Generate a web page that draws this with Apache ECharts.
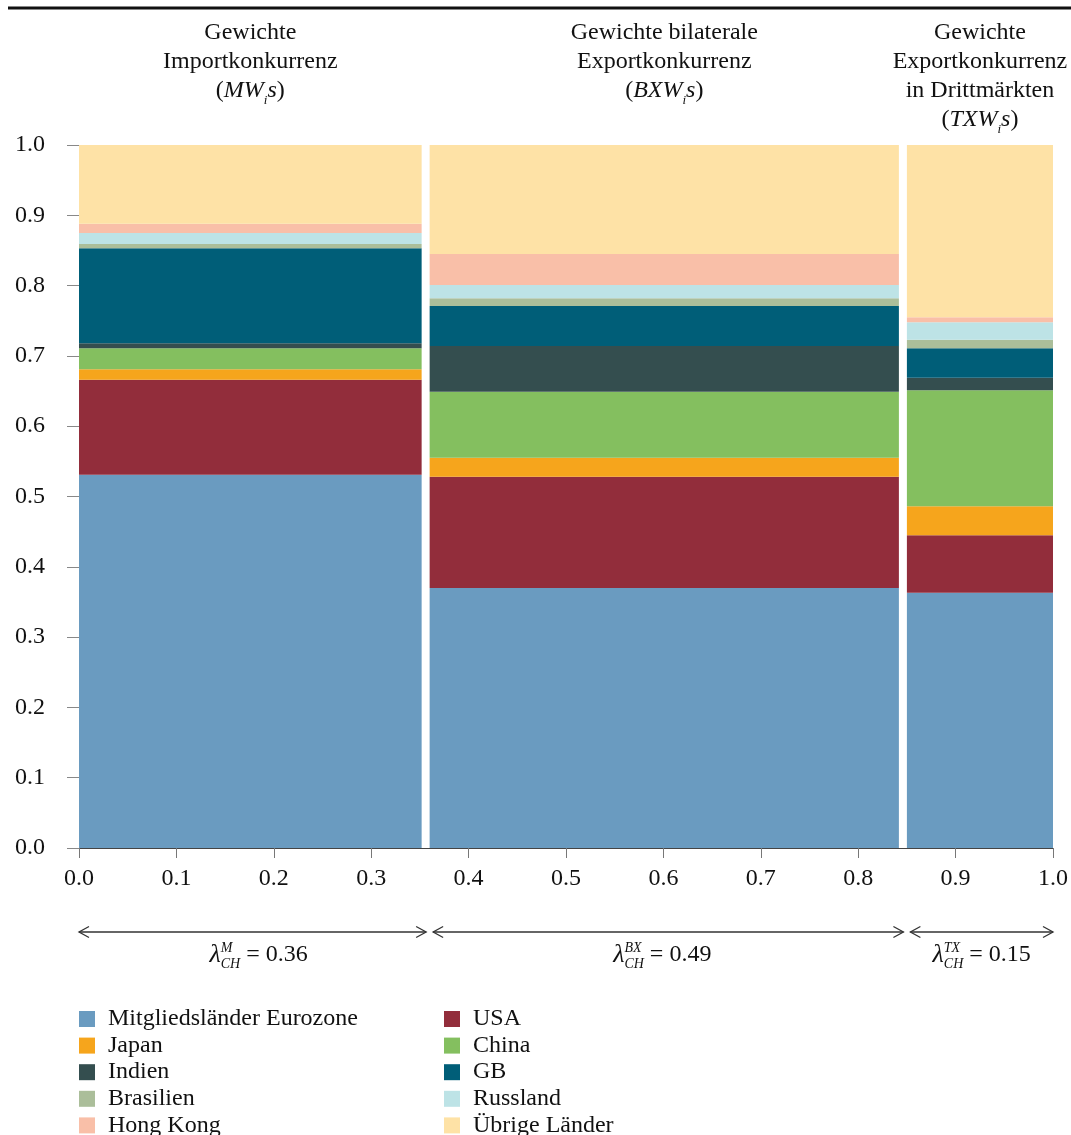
<!DOCTYPE html>
<html>
<head>
<meta charset="utf-8">
<script src="https://cdn.jsdelivr.net/npm/echarts@6/dist/echarts.min.js"></script>
<style>
  html, body { margin: 0; padding: 0; background: #fff; }
  #chart { width: 1071px; height: 1135px; }
</style>
</head>
<body>
<div id="chart"></div>
<script>
// Breite der Säulen (Lambda) und Anteile je Land, Reihenfolge: MWs, BXWs, TXWs
var panelWidths = [0.36, 0.49, 0.15];
var lambdaLabels = ['M', 'BX', 'TX'];

var eurozone  = [0.531, 0.370, 0.363];
var usa       = [0.135, 0.158, 0.082];
var japan     = [0.015, 0.027, 0.041];
var china     = [0.030, 0.094, 0.165];
var indien    = [0.007, 0.065, 0.018];
var gb        = [0.135, 0.057, 0.042];
var brasilien = [0.006, 0.011, 0.012];
var russland  = [0.016, 0.019, 0.025];
var hongKong  = [0.013, 0.044, 0.007];
var uebrige   = [0.112, 0.155, 0.245];

var countries = ['Mitgliedsländer Eurozone', 'USA', 'Japan', 'China', 'Indien',
                 'GB', 'Brasilien', 'Russland', 'Hong Kong', 'Übrige Länder'];
var shares = [eurozone, usa, japan, china, indien, gb, brasilien, russland, hongKong, uebrige];
var colors = ['#6a9bc0', '#922d3b', '#f6a51c', '#84bf5f', '#344e4f',
              '#005e78', '#abbe9a', '#bde3e6', '#f9bfa8', '#fee2a6'];

var FONT = 'Liberation Serif';
var FS = 24;
var GAP = 8;

var chart = echarts.init(document.getElementById('chart'));

// x-Start je Säule
var starts = [];
var acc = 0;
for (var p = 0; p < panelWidths.length; p++) {
	starts.push(acc);
	acc += panelWidths[p];
}

var base = [0, 0, 0];
var series = countries.map(function (name, k) {
	var data = [];
	for (var p = 0; p < panelWidths.length; p++) {
		data.push([starts[p], panelWidths[p], base[p], shares[k][p], p === panelWidths.length - 1 ? 1 : 0]);
		base[p] += shares[k][p];
	}
	return {
		name: name,
		type: 'custom',
		color: colors[k],
		data: data,
		encode: { x: [0], y: [2] },
		renderItem: function (params, api) {
			var x0 = api.value(0), w = api.value(1), y0 = api.value(2), h = api.value(3);
			var a = api.coord([x0, y0 + h]);
			var b = api.coord([x0 + w, y0]);
			var width = b[0] - a[0] - (api.value(4) ? 0 : GAP);
			return {
				type: 'rect',
				shape: { x: a[0], y: a[1], width: width, height: b[1] - a[1] },
				style: { fill: api.visual('color') }
			};
		}
	};
});

var legendStyle = {
	orient: 'vertical',
	top: 1007,
	height: 200,
	padding: 0,
	itemWidth: 16,
	itemHeight: 16,
	itemGap: 2.6,
	icon: 'rect',
	selectedMode: false,
	textStyle: { fontFamily: FONT, fontSize: FS, lineHeight: 22, color: '#111', padding: [0, 0, 0, 8] }
};

var option = {
	animation: false,
	grid: { left: 79, right: 17, top: 145, bottom: 287 },
	xAxis: {
		type: 'value', min: 0, max: 1, interval: 0.1,
		axisLine: { show: true, lineStyle: { color: '#444', width: 1 } },
		axisTick: { show: true, length: 10, lineStyle: { color: '#777' } },
		axisLabel: { margin: 19, fontFamily: FONT, fontSize: FS, color: '#111',
			formatter: function (v) { return v.toFixed(1); } },
		splitLine: { show: false }
	},
	yAxis: {
		type: 'value', min: 0, max: 1, interval: 0.1,
		axisLine: { show: false },
		axisTick: { show: true, length: 12, lineStyle: { color: '#888' } },
		axisLabel: { margin: 34, fontFamily: FONT, fontSize: FS, color: '#111',
			padding: [4, 0, 0, 0],
			formatter: function (v) { return v.toFixed(1); } },
		splitLine: { show: false }
	},
	legend: [
		Object.assign({ left: 79, data: [countries[0], countries[2], countries[4], countries[6], countries[8]] }, legendStyle),
		Object.assign({ left: 444, data: [countries[1], countries[3], countries[5], countries[7], countries[9]] }, legendStyle)
	],
	series: series
};
chart.setOption(option);

// Textmessung für Formeln
var ctx = document.createElement('canvas').getContext('2d');
function fontStr(size, italic) {
	return (italic ? 'italic ' : '') + size + 'px "' + FONT + '"';
}
function measure(t, size, italic) {
	ctx.font = fontStr(size, italic);
	return ctx.measureText(t).width;
}
function textEl(t, x, y, size, italic, align) {
	return {
		type: 'text',
		style: { text: t, x: x, y: y, fill: '#111', font: fontStr(size, italic),
			textAlign: align || 'left', textVerticalAlign: 'middle' }
	};
}
// Formel aus Teilen, zentriert um (cx, cy)
function formula(cx, cy, pieces) {
	var total = 0;
	pieces.forEach(function (pc) {
		if (pc.stack) {
			pc.w = Math.max(measure(pc.stack[0], pc.s, true), measure(pc.stack[1], pc.s, true));
		} else {
			pc.w = measure(pc.t, pc.s, pc.i);
		}
		total += pc.w + (pc.pad || 0);
	});
	var x = cx - total / 2;
	var out = [];
	pieces.forEach(function (pc) {
		if (pc.stack) {
			out.push(textEl(pc.stack[0], x, cy - 7, pc.s, true));
			out.push(textEl(pc.stack[1], x, cy + 9, pc.s, true));
		} else {
			out.push(textEl(pc.t, x, cy + (pc.dy || 0), pc.s, pc.i));
		}
		x += pc.w + (pc.pad || 0);
	});
	return out;
}

var titles = [
	{ lines: ['Gewichte', 'Importkonkurrenz'], code: 'MW' },
	{ lines: ['Gewichte bilaterale', 'Exportkonkurrenz'], code: 'BXW' },
	{ lines: ['Gewichte', 'Exportkonkurrenz', 'in Drittmärkten'], code: 'TXW' }
];

var graphics = [];
graphics.push({ type: 'rect', shape: { x: 8, y: 6.5, width: 1063, height: 3 }, style: { fill: '#111' } });

var lineY = chart.convertToPixel({ gridIndex: 0 }, [0, 0])[1];
var arrowY = lineY + 84;

for (var p = 0; p < panelWidths.length; p++) {
	var left = chart.convertToPixel({ gridIndex: 0 }, [starts[p], 0])[0];
	var right = chart.convertToPixel({ gridIndex: 0 }, [starts[p] + panelWidths[p], 0])[0];
	var last = p === panelWidths.length - 1;
	var cx = (left + right - (last ? 0 : GAP)) / 2;

	// Titel
	var t = titles[p];
	t.lines.forEach(function (ln, i) {
		graphics.push(textEl(ln, cx, 33 + i * 29, FS, false, 'center'));
	});
	var fy = 33 + t.lines.length * 29;
	formula(cx, fy, [
		{ t: '(', s: FS },
		{ t: t.code, s: FS, i: true },
		{ t: 'i', s: 13, i: true, dy: 10 },
		{ t: 's', s: FS, i: true },
		{ t: ')', s: FS }
	]).forEach(function (g) { graphics.push(g); });

	// Pfeile
	var ax0 = p === 0 ? left : left + 3.5;
	var ax1 = last ? right : right - 3.5;
	graphics.push({ type: 'line', shape: { x1: ax0, y1: arrowY, x2: ax1, y2: arrowY },
		style: { stroke: '#333', lineWidth: 1.5 } });
	graphics.push({ type: 'polyline', shape: { points: [[ax0 + 10, arrowY - 5.5], [ax0, arrowY], [ax0 + 10, arrowY + 5.5]] },
		style: { stroke: '#333', lineWidth: 1.3, fill: null } });
	graphics.push({ type: 'polyline', shape: { points: [[ax1 - 10, arrowY - 5.5], [ax1, arrowY], [ax1 - 10, arrowY + 5.5]] },
		style: { stroke: '#333', lineWidth: 1.3, fill: null } });

	// Lambda
	var lx = (ax0 + ax1) / 2 + (p === 0 ? 6 : (p === 1 ? -6 : 0));
	formula(lx, arrowY + 23, [
		{ t: 'λ', s: 26, i: true },
		{ stack: [lambdaLabels[p], 'CH'], s: 14, pad: 6 },
		{ t: '= ' + panelWidths[p].toFixed(2), s: FS, pad: 0 }
	]).forEach(function (g) { graphics.push(g); });
}

chart.setOption({ graphic: graphics });
</script>
</body>
</html>
